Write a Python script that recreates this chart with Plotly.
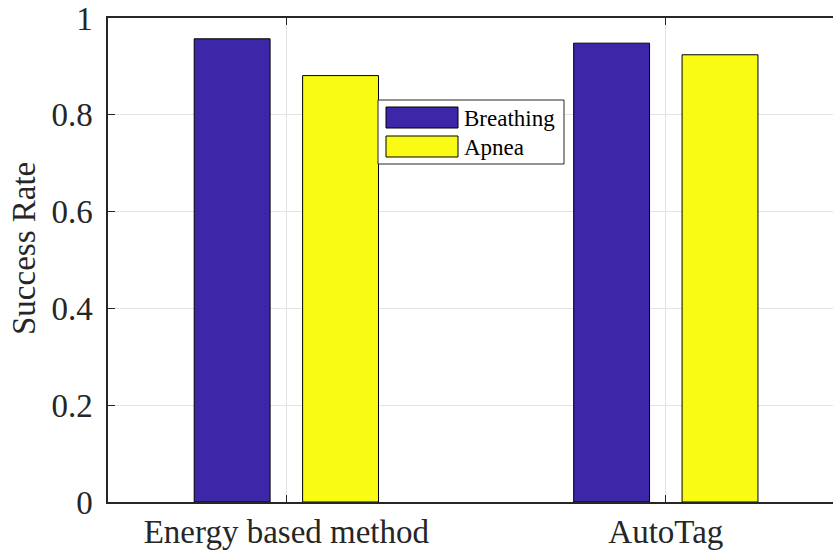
import plotly.graph_objects as go

categories = ["Energy based method", "AutoTag"]
series_names = ["Breathing", "Apnea"]
breathing = [0.957, 0.948]
apnea = [0.881, 0.924]
y_ticks = [0, 0.2, 0.4, 0.6, 0.8, 1]
y_tick_labels = ["0", "0.2", "0.4", "0.6", "0.8", "1"]

colors = ["#3E26A8", "#F9FB15"]
FONT = "Liberation Serif, Times New Roman, serif"
W, H = 833, 553
ML, MR, MT, MB = 108, 0, 18, 51

fig = go.Figure()
for name, vals, col in zip(series_names, [breathing, apnea], colors):
    fig.add_trace(go.Bar(
        x=[1, 2], y=vals, name=name, marker=dict(color=col, line=dict(color="#000000", width=1)),
        showlegend=False,
    ))

pw = W - ML - MR
ph = H - MT - MB
def px(x):
    return (x - ML) / pw
def py(y):
    return 1 - (y - MT) / ph

shapes = [
    dict(type="rect", xref="paper", yref="paper", x0=px(378), x1=px(564), y0=py(164), y1=py(100),
         line=dict(color="#262626", width=1), fillcolor="white", layer="above"),
]
annotations = []
sw = [(107, 128), (136, 157)]
for (y0, y1), name, col in zip(sw, series_names, colors):
    shapes.append(dict(type="rect", xref="paper", yref="paper", x0=px(386), x1=px(458),
                       y0=py(y1), y1=py(y0), line=dict(color="#000000", width=1),
                       fillcolor=col, layer="above"))
    annotations.append(dict(xref="paper", yref="paper", x=px(462), y=py((y0 + y1) / 2 + 1),
                            text=name, showarrow=False, xanchor="left", yanchor="middle",
                            font=dict(family=FONT, size=23, color="#000000")))
annotations.append(dict(xref="paper", yref="paper", x=px(24), y=py(249), text="Success Rate",
                        textangle=-90, showarrow=False, xanchor="center", yanchor="middle",
                        font=dict(family=FONT, size=33, color="#262626")))

fig.update_layout(
    width=W, height=H,
    margin=dict(l=ML, r=MR, t=MT, b=MB, pad=0, autoexpand=False),
    paper_bgcolor="white", plot_bgcolor="white",
    barmode="group", bargap=0.4286, bargroupgap=0.3,
    font=dict(family=FONT, size=33, color="#262626"),
    shapes=shapes, annotations=annotations,
    showlegend=False,
)
fig.update_xaxes(
    range=[0.53, 2.4406], tickmode="array", tickvals=[1, 2], ticktext=categories,
    showgrid=True, gridcolor="#e3e3e3", gridwidth=1, automargin=False,
    showline=True, linecolor="#262626", linewidth=1.5, mirror="ticks",
    ticks="inside", ticklen=7, tickcolor="#262626", zeroline=False,
    tickfont=dict(family=FONT, size=33, color="#262626"),
)
fig.update_yaxes(
    range=[0, 1], tickmode="array", tickvals=y_ticks, ticktext=y_tick_labels,
    showgrid=True, gridcolor="#e3e3e3", gridwidth=1, automargin=False,
    showline=True, linecolor="#262626", linewidth=1.5, mirror=False,
    ticks="inside", ticklen=7, tickcolor="#262626", zeroline=False,
    ticklabelstandoff=7,
    tickfont=dict(family=FONT, size=33, color="#262626"),
)

fig.write_html("out.html", config={"displayModeBar": False},
               post_script="document.body.style.margin='0';document.body.style.overflow='hidden';")
